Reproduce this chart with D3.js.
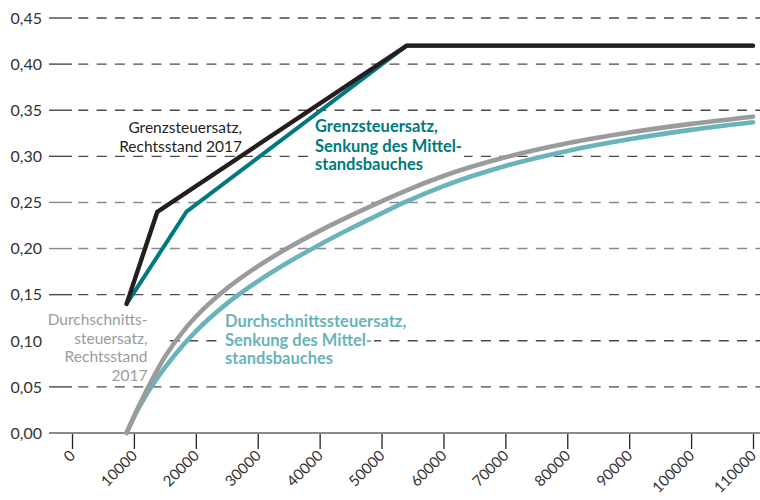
<!DOCTYPE html>
<html><head><meta charset="utf-8">
<script src="https://cdn.jsdelivr.net/npm/d3@7"></script>
<style>body{margin:0;background:#fff;}svg{display:block;font-family:Lato,"Noto Sans",sans-serif;}</style>
</head><body>
<svg id="c" width="760" height="500"></svg>
<script>
const yTicks = [0,0.05,0.10,0.15,0.20,0.25,0.30,0.35,0.40,0.45];
const xTicks = [0,10000,20000,30000,40000,50000,60000,70000,80000,90000,100000,110000];

const margIncome2017 = [8820, 13770, 54058, 110000];
const margRate2017   = [0.14, 0.2397, 0.42, 0.42];
const margIncomeNew  = [8820, 18500, 54058, 110000];
const margRateNew    = [0.14, 0.24, 0.42, 0.42];

const avgIncome  = [8820, 10000, 12000, 13770, 15000, 18500, 20000, 25000, 30000, 35000, 40000, 45000, 50000, 54058, 60000, 70000, 80000, 90000, 100000, 110000];
const avgRate2017 = [0, 0.0179, 0.0456, 0.0683, 0.0825, 0.1148, 0.1260, 0.1566, 0.1807, 0.2011, 0.2192, 0.2357, 0.2512, 0.2632, 0.2787, 0.2989, 0.3141, 0.3258, 0.3352, 0.3430];
const avgRateNew  = [0, 0.0172, 0.0415, 0.0595, 0.0708, 0.0994, 0.1102, 0.1403, 0.1645, 0.1854, 0.2042, 0.2217, 0.2382, 0.2511, 0.2678, 0.2896, 0.3059, 0.3185, 0.3287, 0.3370];

const svg = d3.select("#c");
const x = d3.scaleLinear().domain([0,110000]).range([72,753]);
const y = d3.scaleLinear().domain([0,0.45]).range([433,18]);
const fmtY = d => d.toFixed(2).replace(".", ",");

// gridlines
const grid = svg.append("g");
yTicks.forEach(t => {
  if (t === 0) return;
  const col = (t > 0.17 && t < 0.27) ? "#8a8a8a" : "#4a4a4a";
  grid.append("line").attr("x1",49).attr("x2",72).attr("y1",y(t)).attr("y2",y(t))
    .attr("stroke",col).attr("stroke-width",1.4);
  grid.append("line").attr("x1",78.3).attr("x2",760).attr("y1",y(t)).attr("y2",y(t))
    .attr("stroke",col).attr("stroke-width",1.4).attr("stroke-dasharray","10,8.3");
});
// y labels
svg.append("g").selectAll("text").data(yTicks).join("text")
  .attr("x",42).attr("y",d=>y(d)).attr("dy","0.36em").attr("text-anchor","end")
  .attr("font-size",16).attr("fill","#333").text(fmtY);

// x axis
const xAxis = d3.axisBottom(x).tickValues(xTicks).tickSize(16).tickFormat(d=>String(d));
const ga = svg.append("g").attr("transform","translate(0,433)").call(xAxis);
ga.select(".domain").remove();
ga.selectAll(".tick line").attr("stroke","#222").attr("stroke-width",1.3);
ga.selectAll(".tick text").attr("font-size",15).attr("fill","#333").attr("font-family","Lato,sans-serif")
  .attr("text-anchor","end").attr("transform","translate(0,20) rotate(-45)").attr("y",0).attr("dy","0.35em");
svg.append("line").attr("x1",49).attr("x2",760).attr("y1",433).attr("y2",433)
  .attr("stroke","#8a8a8a").attr("stroke-width",2);

// white label backgrounds (hide gridlines behind labels)
const bg = svg.append("g").attr("fill","#fff");
bg.append("rect").attr("x",44).attr("y",311).attr("width",118).attr("height",72);
bg.append("rect").attr("x",219).attr("y",313).attr("width",155).attr("height",57);
bg.append("rect").attr("x",310).attr("y",118).attr("width",154).attr("height",58);

// lines
const mk = (xs, ys) => xs.map((v,i)=>[v, ys[i]]);
const lineStraight = d3.line().x(d=>x(d[0])).y(d=>y(d[1]));
const lineSmooth = d3.line().x(d=>x(d[0])).y(d=>y(d[1])).curve(d3.curveMonotoneX);

svg.append("path").datum(mk(avgIncome, avgRateNew)).attr("d", lineSmooth)
  .attr("fill","none").attr("stroke","#69b3bb").attr("stroke-width",4.6).attr("stroke-linecap","round");
svg.append("path").datum(mk(avgIncome, avgRate2017)).attr("d", lineSmooth)
  .attr("fill","none").attr("stroke","#9b9b9e").attr("stroke-width",4.6).attr("stroke-linecap","round");
svg.append("path").datum(mk(margIncomeNew, margRateNew)).attr("d", lineStraight)
  .attr("fill","none").attr("stroke","#00797c").attr("stroke-width",4).attr("stroke-linecap","round").attr("stroke-linejoin","round");
svg.append("path").datum(mk(margIncome2017, margRate2017)).attr("d", lineStraight)
  .attr("fill","none").attr("stroke","#231f20").attr("stroke-width",4.4).attr("stroke-linecap","round").attr("stroke-linejoin","miter");

// labels
function label(lines, xx, ys, anchor, color, weight, size){
  const t = svg.append("text").attr("text-anchor",anchor).attr("fill",color)
    .attr("font-size",size).attr("font-weight",weight);
  lines.forEach((l,i)=> t.append("tspan").attr("x",xx).attr("y",ys[i]).text(l));
}
label(["Grenzsteuersatz,","Rechtsstand 2017"], 242, [133,152], "end", "#231f20", 400, 15.5);
label(["Grenzsteuersatz,","Senkung des Mittel-","standsbauches"], 315, [132,151.5,170], "start", "#00797c", 700, 16.5);
label(["Durchschnitts-","steuersatz,","Rechtsstand","2017"], 147.5, [325,343.5,362,380.5], "end", "#9b9b9b", 400, 15.5);
label(["Durchschnittssteuersatz,","Senkung des Mittel-","standsbauches"], 225, [327,345.5,364], "start", "#69b3bb", 700, 16.5);
</script>
</body></html>
